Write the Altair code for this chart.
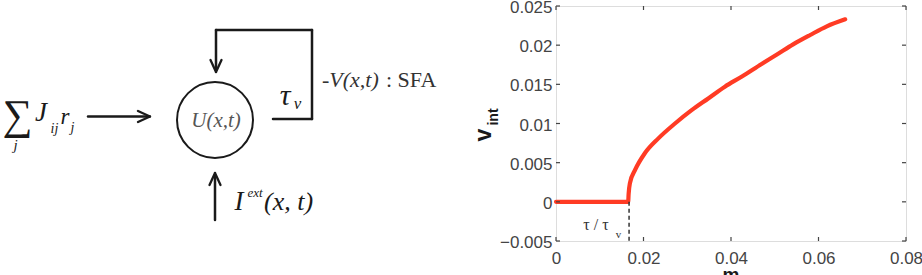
import altair as alt
import pandas as pd

# ---- data ----
m_vals = [0.0, 0.0165, 0.0166, 0.0169, 0.0181, 0.0203, 0.0234, 0.0272, 0.0310,
          0.0348, 0.0386, 0.0425, 0.0470, 0.0505, 0.0542, 0.0581, 0.0619, 0.0661]
v_vals = [0.0, 0.0, 0.0010, 0.0024, 0.0041, 0.0062, 0.0081, 0.0100, 0.0117,
          0.0132, 0.0147, 0.0160, 0.0176, 0.0188, 0.0201, 0.0213, 0.0224, 0.0233]
threshold = [0.0167]          # tau / tau_v
x_ticks = [0, 0.02, 0.04, 0.06, 0.08]
y_ticks = [-0.005, 0, 0.005, 0.01, 0.015, 0.02, 0.025]

curve = pd.DataFrame({"m": m_vals, "v": v_vals})
thr = pd.DataFrame({"m": threshold, "lo": [0.0], "hi": [-0.005]})
xt = pd.DataFrame({"t": x_ticks})
yt = pd.DataFrame({"t": y_ticks})
one = pd.DataFrame({"k": [0]})

W, H = 350, 235
OX, OY = 556, 6
SERIF = "Liberation Serif, Times New Roman, Times, serif"
SANS = "Liberation Sans, Arial, Helvetica, sans-serif"
INK = "#1a1a1a"

xs = alt.Scale(domain=[0, 0.08], nice=False, zero=False)
ys = alt.Scale(domain=[-0.005, 0.025], nice=False, zero=False)

axis_x = alt.Axis(values=x_ticks, format="~g", labelFontSize=17, labelColor="#444444",
                  labelFont=SANS, ticks=False, domain=False, grid=False, title=None,
                  labelPadding=9, labelFlush=False, labelOverlap=False)
axis_y = alt.Axis(values=y_ticks, format="~g", labelFontSize=17, labelColor="#444444",
                  labelFont=SANS, ticks=False, domain=False, grid=False, title=None,
                  labelPadding=4, labelOffset=1.5, labelFlush=False, labelOverlap=False)


def label(t, x, y, size, style="italic", font=SERIF, color=INK, align="center",
          baseline="middle", angle=0, weight="normal"):
    kw = dict(text=t, fontSize=size, fontStyle=style, font=font, color=color,
              align=align, baseline=baseline, fontWeight=weight)
    if angle:
        kw["angle"] = angle
    return alt.Chart(one).mark_text(**kw).encode(
        x=alt.value(x - OX), y=alt.value(y - OY))


def seg(x1, y1, x2, y2, w=2.3, color=INK):
    return alt.Chart(one).mark_rule(color=color, strokeWidth=w, strokeCap="round").encode(
        x=alt.value(x1 - OX), y=alt.value(y1 - OY),
        x2=alt.value(x2 - OX), y2=alt.value(y2 - OY))


def head(tx, ty, dx, dy, L=12, hw=5.5):
    # chevron arrow head with tip (tx,ty), pointing in direction (dx,dy)
    bx, by = tx - dx * L, ty - dy * L
    px, py = -dy * hw, dx * hw
    return [seg(tx, ty, bx + px, by + py, 2.3), seg(tx, ty, bx - px, by - py, 2.3)]


layers = []

# ---------------- schematic (left) ----------------
layers += [
    label("\u2211", 17.5, 116, 42, style="normal"),
    label("j", 15.5, 145, 15),
    label("J", 41, 113, 27),
    label("ij", 54.5, 129, 14),
    label("r", 65, 117, 23),
    label("j", 72.5, 128, 14),
]
layers += [seg(88, 116.5, 149, 116.5, 2.5)] + head(150, 116.5, 1, 0)

layers.append(
    alt.Chart(one).mark_point(shape="circle", filled=False, size=76 * 76,
                              color=INK, strokeWidth=2, opacity=1).encode(
        x=alt.value(215 - OX), y=alt.value(120 - OY)))
layers.append(label("U(x,t)", 216, 121, 21, color="#555555"))

# feedback loop
layers += [
    seg(273, 119, 312, 119, 2.5),
    seg(312, 119, 312, 30, 2.5),
    seg(312, 30, 216, 30, 2.5),
    seg(216, 30, 216, 70, 2.5),
] + head(216, 72, 0, 1)
layers += [
    label("\u03c4", 285, 96, 30),
    label("v", 297.5, 104, 17),
    label("-V(x,t)", 322, 80, 22, align="left", color="#333333"),
    label(": SFA", 386, 80, 22, style="normal", align="left", color="#333333"),
]

# external input
layers += [seg(215, 220, 215, 175, 2.5)] + head(215, 173, 0, -1)
layers += [
    label("I", 239, 202, 27),
    label("ext", 255, 193, 13),
    label("(x, t)", 264, 202, 26, align="left"),
]

# ---------------- plot (right) ----------------
layers.append(
    alt.Chart(curve).mark_line(color="#ff3b24", strokeWidth=4.2, strokeCap="round",
                               interpolate="monotone").encode(
        x=alt.X("m:Q", scale=xs, axis=axis_x),
        y=alt.Y("v:Q", scale=ys, axis=axis_y)))

layers.append(
    alt.Chart(thr).mark_rule(color="#333333", strokeWidth=1.5, strokeDash=[4, 3]).encode(
        x=alt.X("m:Q", scale=xs, axis=axis_x),
        y=alt.Y("lo:Q", scale=ys, axis=axis_y),
        y2="hi:Q"))

# mirrored inward ticks
tick_style = dict(color="#444444", strokeWidth=1.2)
layers += [
    alt.Chart(yt).mark_rule(**tick_style).encode(
        y=alt.Y("t:Q", scale=ys, axis=axis_y), x=alt.value(0), x2=alt.value(4)),
    alt.Chart(yt).mark_rule(**tick_style).encode(
        y=alt.Y("t:Q", scale=ys, axis=axis_y), x=alt.value(W), x2=alt.value(W - 4)),
    alt.Chart(xt).mark_rule(**tick_style).encode(
        x=alt.X("t:Q", scale=xs, axis=axis_x), y=alt.value(H), y2=alt.value(H - 4)),
    alt.Chart(xt).mark_rule(**tick_style).encode(
        x=alt.X("t:Q", scale=xs, axis=axis_x), y=alt.value(0), y2=alt.value(4)),
]

# axis titles and annotation
layers += [
    label("v", 484, 135, 23, style="normal", font=SANS, weight="bold", angle=270),
    label("int", 494, 117, 14, style="normal", font=SANS, weight="bold", angle=270),
    label("m", 731, 281, 19, style="normal", font=SANS, weight="bold", baseline="alphabetic"),
    label("\u03c4 / \u03c4", 596, 225, 16, style="normal", color="#333333"),
    label("v", 618.5, 235, 11, style="normal", color="#333333"),
]

chart = alt.layer(*layers).properties(
    width=W, height=H,
    padding={"left": OX, "top": OY, "right": 922 - OX - W, "bottom": 275 - OY - H},
    autosize=alt.AutoSizeParams(type="none"),
).configure_view(stroke="#333333", strokeWidth=1.3).configure(background="white")

chart.save("out.html", embed_options={"renderer": "svg", "actions": False})
